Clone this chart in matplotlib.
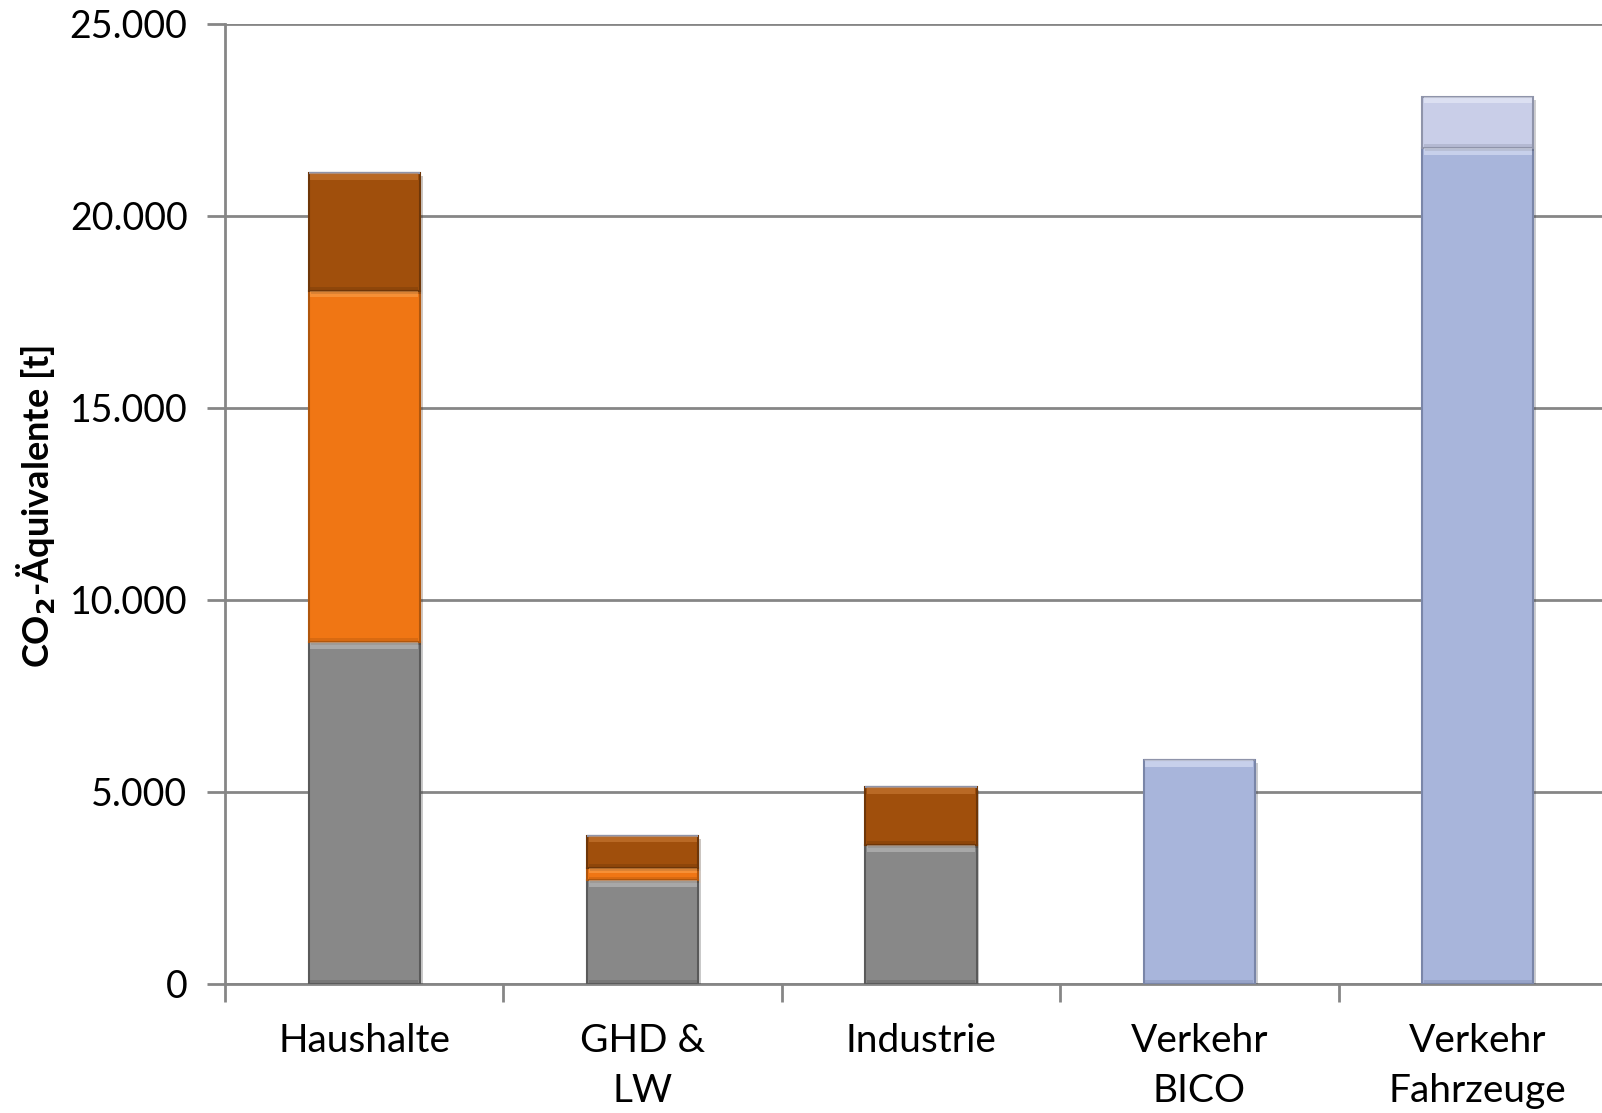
import matplotlib.pyplot as plt
import matplotlib.patheffects as pe
import numpy as np

kategorien = ['Haushalte', 'GHD &\nLW', 'Industrie', 'Verkehr\nBICO', 'Verkehr\nFahrzeuge']
grau = [8900, 2700, 3620, 0, 0]
orange = [9150, 320, 0, 0, 0]
braun = [3070, 835, 1510, 0, 0]
blau = [0, 0, 0, 5830, 21770]
hellblau = [0, 0, 0, 0, 1330]

serien = [
    (grau, '#888888', '#5a5a5a', '#d0d0d0'),
    (orange, '#f07614', '#b0560c', '#ffb060'),
    (braun, '#a04f0c', '#6e3608', '#d88a44'),
    (blau, '#a8b5db', '#7a86a8', '#eef2ff'),
    (hellblau, '#c9cee8', '#8f94aa', '#f4f6ff'),
]

plt.rcParams['font.family'] = ['Lato', 'DejaVu Sans']

fig = plt.figure(figsize=(16.02, 11.13), dpi=100)
ax = fig.add_axes([225 / 1602, 129 / 1113, 1392 / 1602, 960 / 1113])

x = np.arange(len(kategorien))
breite = 0.4
unten = np.zeros(len(kategorien))
for werte, farbe, rand, licht in serien:
    werte = np.array(werte, dtype=float)
    bars = ax.bar(x, werte, breite, bottom=unten, color=farbe, edgecolor=rand,
                  linewidth=1.5, zorder=3,
                  path_effects=[pe.SimplePatchShadow(offset=(2, -2), alpha=0.25), pe.Normal()])
    # helle Kante oben, dunkle unten (Bevel-Andeutung)
    for b, w in zip(bars, werte):
        if w > 0:
            h = min(w * 0.4, 170)
            ax.bar(b.get_x() + breite / 2, h, breite * 0.97, bottom=b.get_y() + w - h,
                   color=licht, alpha=0.45, linewidth=0, zorder=4)
            ax.bar(b.get_x() + breite / 2, h * 0.6, breite * 0.97, bottom=b.get_y(),
                   color=rand, alpha=0.35, linewidth=0, zorder=4)
    unten += werte

ax.set_xlim(-0.5, len(kategorien) - 0.5)
ax.set_ylim(0, 25000)
ax.set_yticks(np.arange(0, 25001, 5000))
ax.set_yticklabels(['0', '5.000', '10.000', '15.000', '20.000', '25.000'])
ax.yaxis.grid(True, color='#868686', linewidth=2, zorder=0)
ax.set_axisbelow(True)

ax.set_xticks(x)
ax.set_xticklabels(kategorien, fontsize=28, linespacing=1.5)
ax.tick_params(axis='x', which='major', length=0, pad=28)
ax.set_xticks(np.arange(len(kategorien) + 1) - 0.5, minor=True)
ax.tick_params(axis='x', which='minor', length=13, width=2, color='#868686')
ax.tick_params(axis='y', labelsize=27, length=13, width=2, color='#868686', pad=14)

for s in ['top', 'right']:
    ax.spines[s].set_visible(False)
for s in ['left', 'bottom']:
    ax.spines[s].set_color('#868686')
    ax.spines[s].set_linewidth(2)

fig.text(36 / 1602, 0.545, r'CO$_\mathbf{2}$-Äquivalente [t]', rotation=90,
         fontsize=26, fontweight='bold', ha='center', va='center')

fig.savefig('out.png', dpi=100)
